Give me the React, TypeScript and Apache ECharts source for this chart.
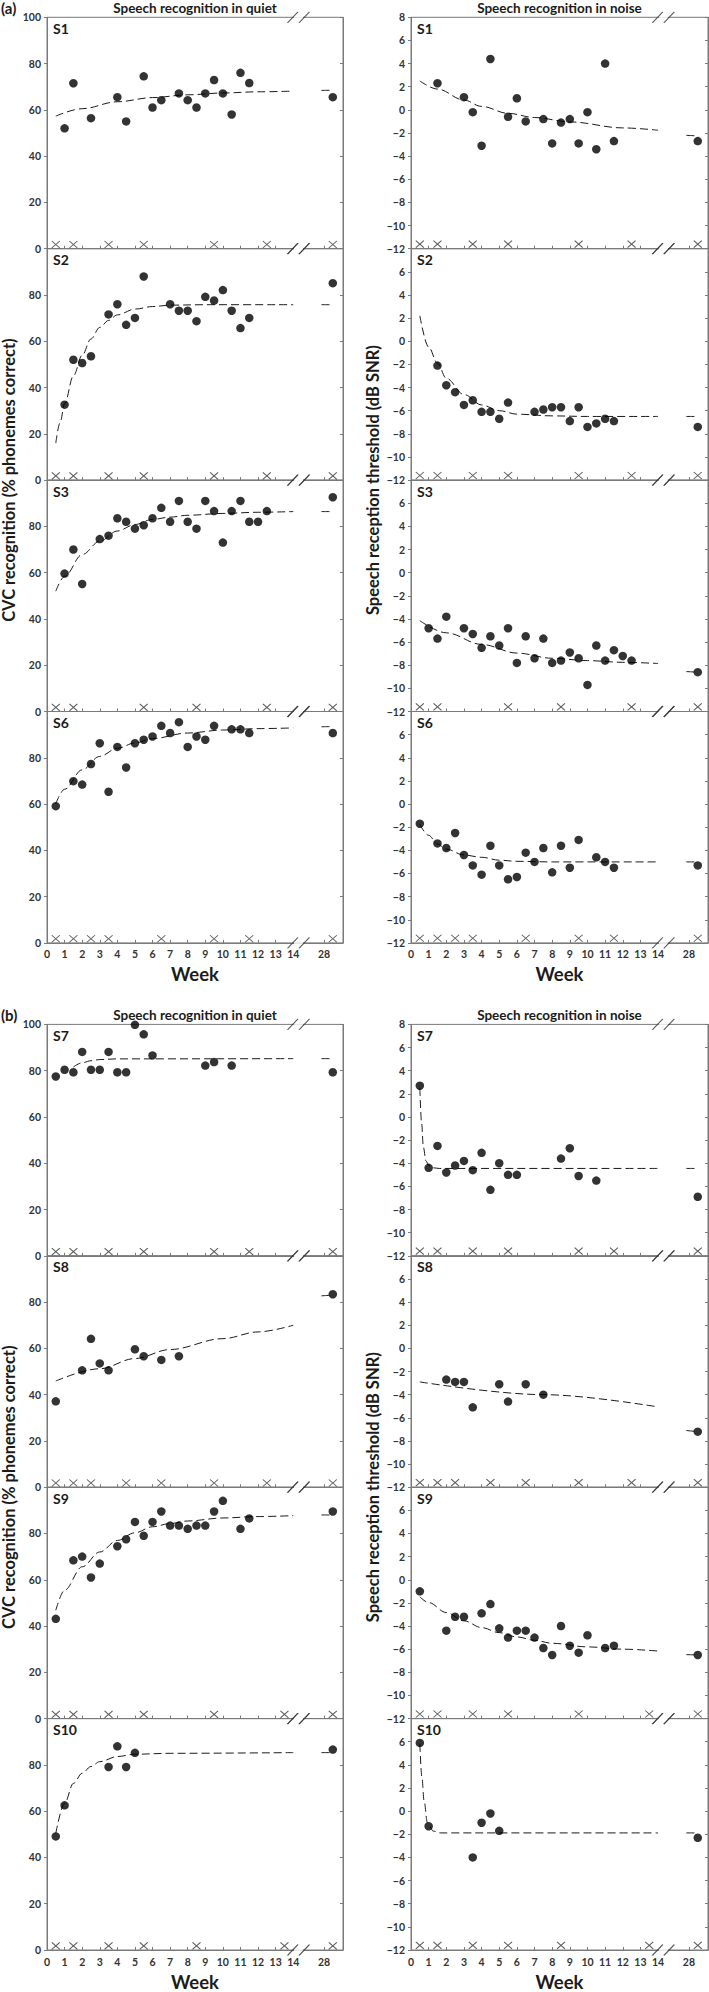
import React, { useEffect, useRef } from "react";
import * as echarts from "echarts";

// ---------- sessions (weeks marked with X) ----------
const S1_SESSIONS = [0.5, 1.5, 3.5, 5.5, 9.5, 12.5, 28.5];
const S2_SESSIONS = [0.5, 1.5, 3.5, 5.5, 9.5, 12.5, 28.5];
const S3_SESSIONS = [0.5, 1.5, 5.5, 8.5, 12.5, 28.5];
const S6_SESSIONS = [0.5, 1.5, 2.5, 3.5, 6.5, 9.5, 11.5, 28.5];
const S7_SESSIONS = [0.5, 1.5, 3.5, 5.5, 9.5, 11.5, 28.5];
const S8_SESSIONS = [0.5, 1.5, 2.5, 4.5, 6.5, 9.5, 12.5, 28.5];
const S9_SESSIONS = [0.5, 1.5, 3.5, 5.5, 9.5, 13.5, 28.5];
const S10_SESSIONS = [0.5, 1.5, 3.5, 5.5, 8.5, 13.5, 28.5];

// ---------- CVC recognition in quiet (% phonemes correct) ----------
const S1_QUIET = [[1, 52], [1.5, 71.5], [2.5, 56.4], [4, 65.5], [4.5, 55], [5.5, 74.5], [6, 61], [6.5, 64.2], [7.5, 67.1], [8, 64.2], [8.5, 61], [9, 67.1], [9.5, 72.9], [10, 67.1], [10.5, 58], [11, 76], [11.5, 71.6], [28.5, 65.5]];
const S1_QUIET_FIT = [[0.5, 57.3], [2, 60.5], [4, 63.5], [6, 65.3], [8, 66.5], [10, 67.3], [12, 67.8], [14, 68.1]];
const S1_QUIET_FIT_28 = [[27.85, 68.4], [28.5, 68.5]];

const S2_QUIET = [[1, 32.6], [1.5, 52], [2, 50.6], [2.5, 53.5], [3.5, 71.6], [4, 76], [4.5, 67.1], [5, 70.1], [5.5, 88], [7, 76], [7.5, 73.2], [8, 73.2], [8.5, 68.7], [9, 79.2], [9.5, 77.6], [10, 82.1], [10.5, 73.2], [11, 65.7], [11.5, 70.1], [28.5, 85.1]];
const S2_QUIET_FIT = [[0.5, 16], [0.75, 25], [1, 33], [1.5, 45], [2, 54], [2.5, 61], [3, 66], [3.5, 69], [4, 71.4], [5, 73.9], [6, 75], [7, 75.6], [9, 75.8], [14, 75.8]];
const S2_QUIET_FIT_28 = [[27.85, 75.8], [28.5, 75.8]];

const S3_QUIET = [[1, 59.6], [1.5, 70], [2, 55.1], [3, 74.5], [3.5, 76], [4, 83.5], [4.5, 82], [5, 79], [5.5, 80.5], [6, 83.5], [6.5, 88], [7, 82], [7.5, 91], [8, 82], [8.5, 79], [9, 91], [9.5, 86.6], [10, 73], [10.5, 86.6], [11, 91], [11.5, 82], [12, 82], [12.5, 86.6], [28.5, 92.6]];
const S3_QUIET_FIT = [[0.5, 52], [1, 58.4], [2, 67.8], [3, 73.6], [4, 78], [5, 80.8], [6, 83], [7, 84], [8, 84.8], [10, 85.6], [12, 86.1], [14, 86.4]];
const S3_QUIET_FIT_28 = [[27.85, 86.4], [28.5, 86.4]];

const S6_QUIET = [[0.5, 59.1], [1.5, 69.9], [2, 68.4], [2.5, 77.3], [3, 86.3], [3.5, 65.3], [4, 84.7], [4.5, 75.8], [5, 86.3], [5.5, 87.8], [6, 89.2], [6.5, 93.8], [7, 90.7], [7.5, 95.4], [8, 84.7], [8.5, 89.2], [9, 87.8], [9.5, 93.8], [10.5, 92.3], [11, 92.3], [11.5, 90.7], [28.5, 90.7]];
const S6_QUIET_FIT = [[0.5, 60.2], [1, 66.4], [2, 74.8], [3, 80.6], [4, 84.1], [5, 86.4], [6, 88.3], [8, 90.7], [10, 92], [12, 92.6], [14, 92.9]];
const S6_QUIET_FIT_28 = [[27.85, 93.4], [28.5, 93.5]];

const S7_QUIET = [[0.5, 77.5], [1, 80.4], [1.5, 79.3], [2, 88.1], [2.5, 80.4], [3, 80.4], [3.5, 88.1], [4, 79.3], [4.5, 79.3], [5, 99.8], [5.5, 95.7], [6, 86.6], [9, 82.2], [9.5, 83.7], [10.5, 82.2], [28.5, 79.3]];
const S7_QUIET_FIT = [[1.5, 81.6], [2, 83.4], [2.5, 84.3], [3, 84.8], [4, 85.1], [14, 85.2]];
const S7_QUIET_FIT_28 = [[27.85, 85.2], [28.5, 85.2]];

const S8_QUIET = [[0.5, 37.1], [2, 50.5], [2.5, 64.1], [3, 53.5], [3.5, 50.5], [5, 59.6], [5.5, 56.6], [6.5, 55], [7.5, 56.6], [28.5, 83.4]];
const S8_QUIET_FIT = [[0.5, 45.9], [3, 51.2], [5, 55.6], [7, 59.5], [10, 64.2], [12, 67.1], [14, 70]];
const S8_QUIET_FIT_28 = [[27.85, 82.7], [28.5, 83]];

const S9_QUIET = [[0.5, 43.1], [1.5, 68.4], [2, 70], [2.5, 61], [3, 67], [4, 74.5], [4.5, 77.5], [5, 85], [5.5, 79], [6, 85], [6.5, 89.5], [7, 83.4], [7.5, 83.4], [8, 82], [8.5, 83.4], [9, 83.4], [9.5, 89.5], [10, 94.1], [11, 82], [11.5, 86.5], [28.5, 89.5]];
const S9_QUIET_FIT = [[0.5, 46.8], [1, 55.5], [2, 65.6], [3, 72], [4, 77], [5, 80.3], [6, 82.9], [7, 84.3], [8, 85.4], [10, 86.7], [12, 87.3], [14, 87.7]];
const S9_QUIET_FIT_28 = [[27.85, 88], [28.5, 88]];

const S10_QUIET = [[0.5, 49.1], [1, 62.5], [3.5, 79.1], [4, 88], [4.5, 79.1], [5, 85.2], [28.5, 86.6]];
const S10_QUIET_FIT = [[0.5, 50.4], [1, 63.4], [1.5, 72], [2, 76.4], [2.5, 79.3], [3, 81.4], [4, 83.6], [5, 84.6], [7, 85], [14, 85.3]];
const S10_QUIET_FIT_28 = [[27.85, 85.3], [28.5, 85.3]];

// ---------- Speech reception threshold in noise (dB SNR) ----------
const S1_NOISE = [[1.5, 2.3], [3, 1.1], [3.5, -0.2], [4, -3.1], [4.5, 4.4], [5.5, -0.6], [6, 1.0], [6.5, -1.0], [7.5, -0.8], [8, -2.9], [8.5, -1.1], [9, -0.8], [9.5, -2.9], [10, -0.2], [10.5, -3.4], [11, 4.0], [11.5, -2.7], [28.5, -2.7]];
const S1_NOISE_FIT = [[0.5, 2.5], [1.5, 1.8], [3, 0.85], [4, 0.3], [5.5, -0.3], [7, -0.66], [9, -1.04], [12, -1.56], [14, -1.76]];
const S1_NOISE_FIT_28 = [[27.85, -2.2], [28.5, -2.25]];

const S2_NOISE = [[1.5, -2.1], [2, -3.8], [2.5, -4.4], [3, -5.5], [3.5, -5.1], [4, -6.1], [4.5, -6.1], [5, -6.7], [5.5, -5.3], [7, -6.1], [7.5, -5.9], [8, -5.7], [8.5, -5.7], [9, -6.9], [9.5, -5.7], [10, -7.4], [10.5, -7.1], [11, -6.7], [11.5, -6.9], [28.5, -7.4]];
const S2_NOISE_FIT = [[0.5, 2.2], [1, -0.5], [1.5, -1.9], [2, -3.2], [3, -4.6], [4, -5.5], [5, -6.0], [6, -6.3], [8, -6.45], [10, -6.5], [14, -6.5]];
const S2_NOISE_FIT_28 = [[27.85, -6.5], [28.5, -6.5]];

const S3_NOISE = [[1, -4.8], [1.5, -5.7], [2, -3.8], [3, -4.8], [3.5, -5.3], [4, -6.5], [4.5, -5.5], [5, -6.3], [5.5, -4.8], [6, -7.8], [6.5, -5.5], [7, -7.4], [7.5, -5.7], [8, -7.8], [8.5, -7.6], [9, -6.9], [9.5, -7.4], [10, -9.7], [10.5, -6.3], [11, -7.6], [11.5, -6.7], [12, -7.2], [12.5, -7.6], [28.5, -8.6]];
const S3_NOISE_FIT = [[0.5, -4.15], [2, -5.2], [4, -6.2], [6, -6.95], [8, -7.4], [10, -7.6], [12, -7.75], [14, -7.85]];
const S3_NOISE_FIT_28 = [[27.85, -8.55], [28.5, -8.6]];

const S6_NOISE = [[0.5, -1.7], [1.5, -3.4], [2, -3.8], [2.5, -2.5], [3, -4.4], [3.5, -5.3], [4, -6.1], [4.5, -3.6], [5, -5.3], [5.5, -6.5], [6, -6.3], [6.5, -4.2], [7, -5.0], [7.5, -3.8], [8, -5.9], [8.5, -3.6], [9, -5.5], [9.5, -3.1], [10.5, -4.6], [11, -5.0], [11.5, -5.5], [28.5, -5.3]];
const S6_NOISE_FIT = [[0.5, -1.76], [1, -2.7], [1.5, -3.45], [2, -3.9], [3, -4.4], [4, -4.6], [5, -4.85], [6, -4.95], [8, -5], [14, -5]];
const S6_NOISE_FIT_28 = [[27.85, -5], [28.5, -5]];

const S7_NOISE = [[0.5, 2.7], [1, -4.4], [1.5, -2.5], [2, -4.8], [2.5, -4.2], [3, -3.8], [3.5, -4.6], [4, -3.1], [4.5, -6.3], [5, -4.0], [5.5, -5.0], [6, -5.0], [8.5, -3.6], [9, -2.7], [9.5, -5.1], [10.5, -5.5], [28.5, -6.9]];
const S7_NOISE_FIT = [[0.5, 2.5], [0.6, -0.5], [0.7, -2.6], [0.85, -3.8], [1, -4.2], [1.3, -4.4], [1.6, -4.45], [14, -4.45]];
const S7_NOISE_FIT_28 = [[27.85, -4.45], [28.5, -4.45]];

const S8_NOISE = [[2, -2.7], [2.5, -2.9], [3, -2.9], [3.5, -5.1], [5, -3.1], [5.5, -4.6], [6.5, -3.1], [7.5, -4.0], [28.5, -7.2]];
const S8_NOISE_FIT = [[0.5, -2.9], [7.5, -4.0], [14, -5.06]];
const S8_NOISE_FIT_28 = [[27.85, -7.1], [28.5, -7.2]];

const S9_NOISE = [[0.5, -1.0], [2, -4.4], [2.5, -3.2], [3, -3.2], [4, -2.9], [4.5, -2.1], [5, -4.2], [5.5, -5.0], [6, -4.4], [6.5, -4.4], [7, -5.0], [7.5, -5.9], [8, -6.5], [8.5, -4.0], [9, -5.7], [9.5, -6.3], [10, -4.8], [11, -5.9], [11.5, -5.7], [28.5, -6.5]];
const S9_NOISE_FIT = [[0.5, -1.47], [1, -1.97], [2, -2.83], [3, -3.55], [4, -4.13], [5, -4.57], [6, -4.94], [7, -5.23], [8, -5.49], [10, -5.8], [12, -6.0], [14, -6.16]];
const S9_NOISE_FIT_28 = [[27.85, -6.47], [28.5, -6.5]];

const S10_NOISE = [[0.5, 5.9], [1, -1.3], [3.5, -4.0], [4, -1.0], [4.5, -0.2], [5, -1.7], [28.5, -2.3]];
const S10_NOISE_FIT = [[0.5, 5.8], [0.62, 2.9], [0.74, 0.9], [0.93, -1.0], [1.27, -1.73], [1.65, -1.88], [14, -1.88]];
const S10_NOISE_FIT_28 = [[27.85, -1.88], [28.5, -1.88]];

// ---------- axes ----------
const X_LABEL_WEEKS = [0, 1, 2, 3, 4, 5, 6, 7, 8, 9, 10, 11, 12, 13, 14, 28];
const X_TICK_WEEKS = [1, 2, 3, 4, 5, 6, 7, 8, 9, 10, 11, 12, 13, 28];
const X_BREAK_WEEK = 14.3;
const QUIET_AXIS = { min: 0, max: 100, interval: 20, sessionY: 1.8 };
const NOISE_AXIS = { min: -12, max: 8, interval: 2, sessionY: -11.6 };

const SECTION_TITLES = ["(a)", "(b)"];
const COL_TITLES = ["Speech recognition in quiet", "Speech recognition in noise"];
const Y_TITLES = ["CVC recognition (% phonemes correct)", "Speech reception threshold (dB SNR)"];

type Panel = { label: string; col: number; section: number; row: number; points: number[][]; fit: number[][]; fit28: number[][]; sessions: number[] };
const PANELS: Panel[] = [
  { label: "S1", col: 0, section: 0, row: 0, points: S1_QUIET, fit: S1_QUIET_FIT, fit28: S1_QUIET_FIT_28, sessions: S1_SESSIONS },
  { label: "S2", col: 0, section: 0, row: 1, points: S2_QUIET, fit: S2_QUIET_FIT, fit28: S2_QUIET_FIT_28, sessions: S2_SESSIONS },
  { label: "S3", col: 0, section: 0, row: 2, points: S3_QUIET, fit: S3_QUIET_FIT, fit28: S3_QUIET_FIT_28, sessions: S3_SESSIONS },
  { label: "S6", col: 0, section: 0, row: 3, points: S6_QUIET, fit: S6_QUIET_FIT, fit28: S6_QUIET_FIT_28, sessions: S6_SESSIONS },
  { label: "S1", col: 1, section: 0, row: 0, points: S1_NOISE, fit: S1_NOISE_FIT, fit28: S1_NOISE_FIT_28, sessions: S1_SESSIONS },
  { label: "S2", col: 1, section: 0, row: 1, points: S2_NOISE, fit: S2_NOISE_FIT, fit28: S2_NOISE_FIT_28, sessions: S2_SESSIONS },
  { label: "S3", col: 1, section: 0, row: 2, points: S3_NOISE, fit: S3_NOISE_FIT, fit28: S3_NOISE_FIT_28, sessions: S3_SESSIONS },
  { label: "S6", col: 1, section: 0, row: 3, points: S6_NOISE, fit: S6_NOISE_FIT, fit28: S6_NOISE_FIT_28, sessions: S6_SESSIONS },
  { label: "S7", col: 0, section: 1, row: 0, points: S7_QUIET, fit: S7_QUIET_FIT, fit28: S7_QUIET_FIT_28, sessions: S7_SESSIONS },
  { label: "S8", col: 0, section: 1, row: 1, points: S8_QUIET, fit: S8_QUIET_FIT, fit28: S8_QUIET_FIT_28, sessions: S8_SESSIONS },
  { label: "S9", col: 0, section: 1, row: 2, points: S9_QUIET, fit: S9_QUIET_FIT, fit28: S9_QUIET_FIT_28, sessions: S9_SESSIONS },
  { label: "S10", col: 0, section: 1, row: 3, points: S10_QUIET, fit: S10_QUIET_FIT, fit28: S10_QUIET_FIT_28, sessions: S10_SESSIONS },
  { label: "S7", col: 1, section: 1, row: 0, points: S7_NOISE, fit: S7_NOISE_FIT, fit28: S7_NOISE_FIT_28, sessions: S7_SESSIONS },
  { label: "S8", col: 1, section: 1, row: 1, points: S8_NOISE, fit: S8_NOISE_FIT, fit28: S8_NOISE_FIT_28, sessions: S8_SESSIONS },
  { label: "S9", col: 1, section: 1, row: 2, points: S9_NOISE, fit: S9_NOISE_FIT, fit28: S9_NOISE_FIT_28, sessions: S9_SESSIONS },
  { label: "S10", col: 1, section: 1, row: 3, points: S10_NOISE, fit: S10_NOISE_FIT, fit28: S10_NOISE_FIT_28, sessions: S10_SESSIONS },
];

// ---------- layout / style ----------
const W = 709;
const H = 1992;
const COL_LEFT = [47, 411];
const COL_WIDTH = [296, 297];
const SECTION_TOP = [17.3, 1024.4];
const ROW_H = 231.4;
const X_MAX = 16.83;
const WEEK_GAP = [22, 22];
const FONT = "Lato, 'Open Sans', 'DejaVu Sans', sans-serif";
const FRAME = "#7a7a7a";
const INK = "#1b1b1b";
const X_SYMBOL = "path://M0,0L10,10M10,0L0,10";
const BREAK_SYMBOL = "path://M0,10L10,0M11,10L21,0";

// broken week axis: week 28 sits just past the break
const toPos = (w: number) => (w >= 20 ? w - 12.25 : w);
const toXY = (d: number[]) => [toPos(d[0]), d[1]];

function buildOption() {
  const grid: any[] = [];
  const xAxis: any[] = [];
  const yAxis: any[] = [];
  const series: any[] = [];
  const graphic: any[] = [];
  const labelPos = X_LABEL_WEEKS.map(toPos);
  const tickPos = X_TICK_WEEKS.map(toPos);

  PANELS.forEach((p, i) => {
    const ax = p.col === 0 ? QUIET_AXIS : NOISE_AXIS;
    const top = SECTION_TOP[p.section] + p.row * ROW_H;
    const isBottom = p.row === 3;
    const isTop = p.row === 0;
    grid.push({
      left: COL_LEFT[p.col], top, width: COL_WIDTH[p.col], height: ROW_H,
      show: true, borderColor: FRAME, borderWidth: 1, backgroundColor: "transparent",
      containLabel: false, outerBoundsMode: "none",
    });
    xAxis.push({
      gridIndex: i, type: "value", min: 0, max: X_MAX,
      axisLine: { show: true, onZero: false, lineStyle: { color: FRAME, width: 1 } },
      axisTick: { show: true, inside: true, length: 3, customValues: tickPos, lineStyle: { color: FRAME } },
      axisLabel: {
        show: isBottom, customValues: labelPos, margin: 6,
        formatter: (v: number) => {
          const k = labelPos.findIndex((q) => Math.abs(q - v) < 1e-6);
          return k >= 0 ? String(X_LABEL_WEEKS[k]) : "";
        },
        fontFamily: FONT, fontWeight: "bold", fontSize: 10.5, color: "#333",
      },
      splitLine: { show: false },
      name: isBottom ? "Week" : "", nameLocation: "middle", nameGap: WEEK_GAP[p.section],
      nameTextStyle: { fontFamily: FONT, fontWeight: "bold", fontSize: 18.5, color: INK, verticalAlign: "top" },
    });
    const yBase = {
      gridIndex: i, type: "value", min: ax.min, max: ax.max, interval: ax.interval,
      splitLine: { show: false },
      axisLine: { show: true, onZero: false, lineStyle: { color: FRAME, width: 1 } },
    };
    yAxis.push({
      ...yBase, position: "left",
      axisTick: { show: true, inside: false, length: 3, lineStyle: { color: FRAME } },
      axisLabel: {
        show: true, showMaxLabel: isTop, showMinLabel: true, margin: 6,
        formatter: (v: number) => (v < 0 ? "\u2212" + Math.abs(v) : String(v)),
        fontFamily: FONT, fontWeight: "bold", fontSize: 10.5, color: "#333",
      },
    });
    yAxis.push({
      ...yBase, position: "right",
      axisTick: { show: true, inside: true, length: 3, lineStyle: { color: FRAME } },
      axisLabel: { show: false },
    });
    const yi = 2 * i;
    const lineCommon = {
      type: "line", xAxisIndex: i, yAxisIndex: yi, smooth: 0.35, smoothMonotone: "x",
      symbol: "none", silent: true, z: 3,
      lineStyle: { color: INK, width: 1, type: [8, 4] },
    };
    series.push({ ...lineCommon, data: p.fit.map(toXY) });
    series.push({ ...lineCommon, data: p.fit28.map(toXY) });
    series.push({
      type: "scatter", xAxisIndex: i, yAxisIndex: yi, symbol: "circle", symbolSize: 8.5,
      itemStyle: { color: "#000" }, data: p.points.map(toXY), z: 4, clip: false,
    });
    series.push({
      type: "scatter", xAxisIndex: i, yAxisIndex: yi, symbol: X_SYMBOL, symbolSize: [8, 7],
      itemStyle: { color: "none", borderColor: "#333", borderWidth: 1 },
      data: p.sessions.map((w) => [toPos(w), ax.sessionY]), z: 4, clip: false,
    });
    series.push({
      type: "scatter", xAxisIndex: i, yAxisIndex: yi, symbol: "rect", symbolSize: [9, 4],
      itemStyle: { color: "#fff" }, data: [[X_BREAK_WEEK, ax.min], [X_BREAK_WEEK, ax.max]], z: 5, clip: false, silent: true,
    });
    series.push({
      type: "scatter", xAxisIndex: i, yAxisIndex: yi, symbol: BREAK_SYMBOL, symbolSize: [22, 11],
      itemStyle: { color: "none", borderColor: "#333", borderWidth: 1 },
      data: [[X_BREAK_WEEK, ax.min], [X_BREAK_WEEK, ax.max]], z: 6, clip: false, silent: true,
    });
    graphic.push({
      type: "text", left: COL_LEFT[p.col] + 6, top: top + 4,
      style: { text: p.label, font: `bold 14px ${FONT}`, fill: INK },
    });
  });

  SECTION_TOP.forEach((st, s) => {
    const titleY = st - 9.5;
    graphic.push({ type: "text", x: 1, y: titleY, style: { text: SECTION_TITLES[s], font: `bold 15px ${FONT}`, fill: INK, verticalAlign: "middle" } });
    [0, 1].forEach((c) => {
      graphic.push({
        type: "text", x: COL_LEFT[c] + COL_WIDTH[c] / 2, y: titleY,
        style: { text: COL_TITLES[c], font: `bold 13.5px ${FONT}`, fill: INK, align: "center", verticalAlign: "middle" },
      });
    });
    const midY = st + 2 * ROW_H;
    graphic.push({
      type: "text", x: 9, y: midY, rotation: Math.PI / 2,
      style: { text: Y_TITLES[0], font: `bold 16.5px ${FONT}`, fill: INK, align: "center", verticalAlign: "middle" },
    });
    graphic.push({
      type: "text", x: 373, y: midY, rotation: Math.PI / 2,
      style: { text: Y_TITLES[1], font: `bold 16.5px ${FONT}`, fill: INK, align: "center", verticalAlign: "middle" },
    });
  });

  return { animation: false, backgroundColor: "#fff", grid, xAxis, yAxis, series, graphic };
}

export default function App() {
  const ref = useRef<HTMLDivElement>(null);
  useEffect(() => {
    if (!ref.current) return;
    const chart = echarts.init(ref.current, null, { renderer: "svg" });
    chart.setOption(buildOption() as any);
    return () => chart.dispose();
  }, []);
  return (
    <div
      ref={ref}
      style={{ position: "absolute", left: 0, top: 0, width: W, height: H, background: "#fff" }}
    />
  );
}
